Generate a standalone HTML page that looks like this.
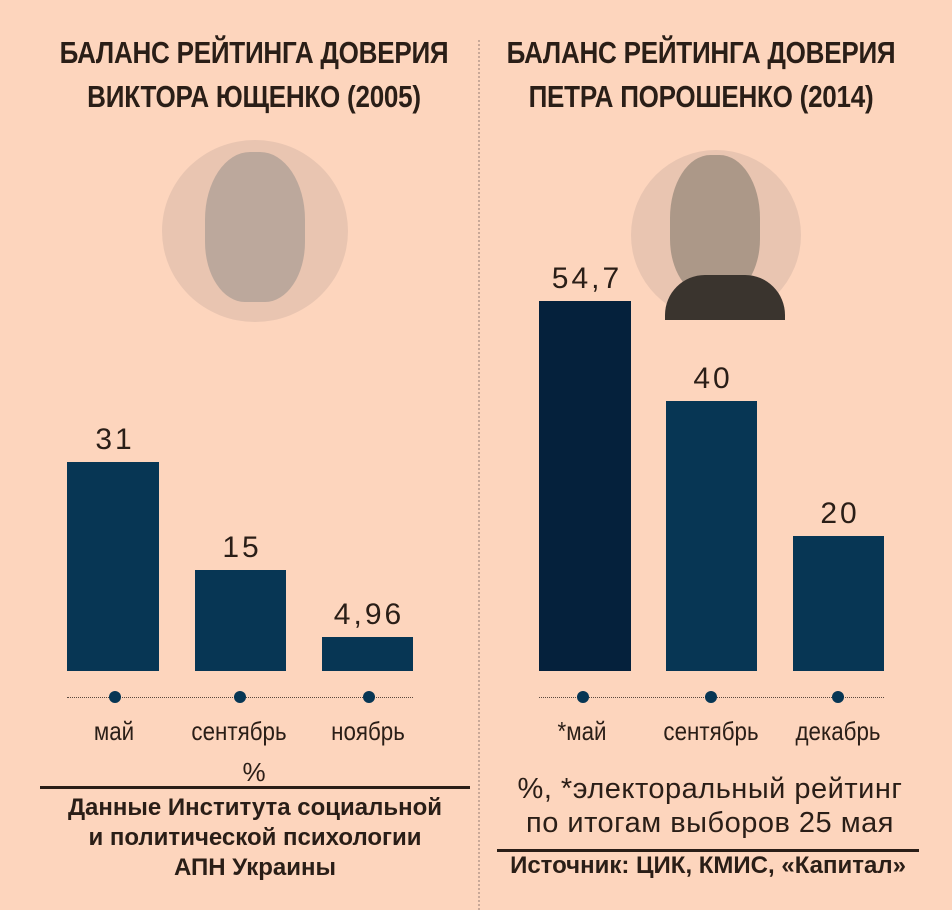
<!DOCTYPE html>
<html><head><meta charset="utf-8"><style>
body{margin:0;width:952px;height:910px;background:#fdd5bd;position:relative;overflow:hidden;font-family:"Liberation Sans",sans-serif;color:#2a1e17}
.a{position:absolute}
.t{position:absolute;font-weight:bold;font-size:31px;line-height:44px;text-align:center;width:600px;transform:scaleX(0.84);letter-spacing:-0.3px}
.bar{position:absolute;background:#073654}
.v{position:absolute;font-size:30px;text-align:center;width:140px;letter-spacing:3px}
.m{position:absolute;font-size:26px;text-align:center;width:160px;transform:scaleX(0.86)}
.dot{position:absolute;width:12px;height:12px;border-radius:50%;background:#073654}
.circ{position:absolute;border-radius:50%;background:#e9c5b1}
</style></head><body>
<div class="a" style="left:478px;top:40px;height:870px;border-left:2px dotted #c8a898"></div>
<div class="t" style="left:-46px;top:31px">БАЛАНС РЕЙТИНГА ДОВЕРИЯ<br>ВИКТОРА ЮЩЕНКО (2005)</div>
<div class="t" style="left:401px;top:31px">БАЛАНС РЕЙТИНГА ДОВЕРИЯ<br>ПЕТРА ПОРОШЕНКО (2014)</div>
<div class="circ" style="left:162px;top:140px;width:186px;height:182px"></div>
<div class="circ" style="left:631px;top:150px;width:170px;height:170px"></div>
<div class="a" style="left:205px;top:152px;width:100px;height:150px;border-radius:45% 45% 40% 40%;background:#bca89c"></div>
<div class="a" style="left:670px;top:155px;width:90px;height:140px;border-radius:45% 45% 40% 40%;background:#ac9888"></div>
<div class="a" style="left:665px;top:275px;width:120px;height:45px;border-radius:40px 40px 0 0;background:#3a342e"></div>

<div class="bar" style="left:67px;top:462px;width:92px;height:209px"></div>
<div class="bar" style="left:195px;top:570px;width:91px;height:101px"></div>
<div class="bar" style="left:322px;top:637px;width:91px;height:34px"></div>
<div class="bar" style="left:539px;top:301px;width:92px;height:370px;background:#05213c"></div>
<div class="bar" style="left:666px;top:401px;width:91px;height:270px"></div>
<div class="bar" style="left:793px;top:536px;width:91px;height:135px"></div>

<div class="v" style="left:45px;top:423px">31</div>
<div class="v" style="left:172px;top:531px">15</div>
<div class="v" style="left:299px;top:598px">4,96</div>
<div class="v" style="left:517px;top:262px">54,7</div>
<div class="v" style="left:643px;top:362px">40</div>
<div class="v" style="left:770px;top:497px">20</div>

<div class="a" style="left:67px;top:697px;width:346px;border-top:1px dotted #5a4a40"></div>
<div class="a" style="left:539px;top:697px;width:345px;border-top:1px dotted #5a4a40"></div>
<div class="dot" style="left:109px;top:691px"></div>
<div class="dot" style="left:234px;top:691px"></div>
<div class="dot" style="left:363px;top:691px"></div>
<div class="dot" style="left:577px;top:691px"></div>
<div class="dot" style="left:705px;top:691px"></div>
<div class="dot" style="left:832px;top:691px"></div>

<div class="m" style="left:34px;top:716px">май</div>
<div class="m" style="left:159px;top:716px">сентябрь</div>
<div class="m" style="left:288px;top:716px">ноябрь</div>
<div class="m" style="left:502px;top:716px">*май</div>
<div class="m" style="left:631px;top:716px">сентябрь</div>
<div class="m" style="left:758px;top:716px">декабрь</div>
<div class="a" style="left:0;width:508px;top:757px;text-align:center;font-size:26px">%</div>
<div class="a" style="left:40px;top:786px;width:430px;height:3px;background:#2a1e17"></div>
<div class="a" style="left:20px;top:793px;width:470px;text-align:center;font-weight:bold;font-size:24px;line-height:30px">Данные Института социальной<br>и политической психологии<br>АПН Украины</div>
<div class="a" style="left:480px;top:772px;width:460px;text-align:center;font-size:29px;line-height:34px;letter-spacing:0.5px">%, *электоральный рейтинг<br>по итогам выборов 25 мая</div>
<div class="a" style="left:497px;top:849px;width:422px;height:3px;background:#2a1e17"></div>
<div class="a" style="left:470px;top:851px;width:476px;text-align:center;font-weight:bold;font-size:24px;line-height:30px">Источник: ЦИК, КМИС, «Капитал»</div>
</body></html>
